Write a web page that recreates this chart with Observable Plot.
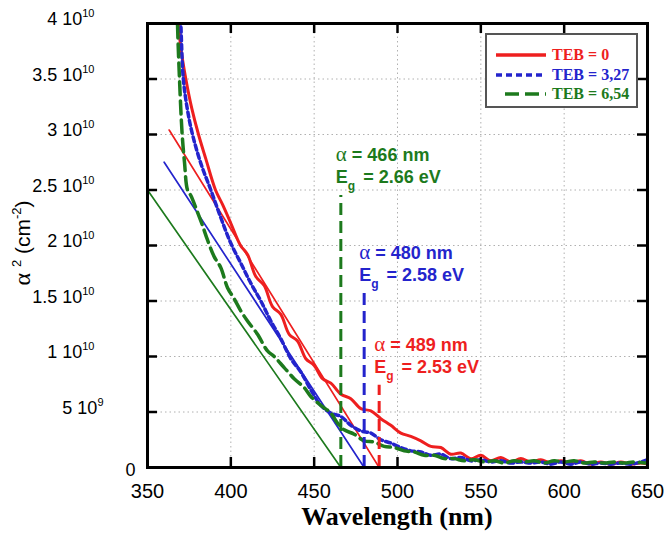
<!DOCTYPE html>
<html><head><meta charset="utf-8">
<script src="https://cdn.jsdelivr.net/npm/d3@7"></script>
<script src="https://cdn.jsdelivr.net/npm/@observablehq/plot@0.6"></script>
<style>
body{margin:0;background:#fff;}
#wrap{position:relative;width:667px;height:534px;overflow:hidden;}
#legend{position:absolute;left:485px;top:33px;width:153px;height:75px;border:2px solid #555;background:#fff;box-sizing:border-box;}
.lrow{position:absolute;left:8px;height:20px;display:flex;align-items:center;font-family:"Liberation Serif","Times New Roman",serif;font-weight:bold;font-size:16px;white-space:nowrap;}
.lrow svg{margin-right:5px;}
</style></head><body><div id="wrap"></div>
<script>
// ---- data ----
const seriesNames = ["TEB = 0", "TEB = 3,27", "TEB = 6,54"];
const seriesColors = ["#ee1f1f", "#2424cc", "#1d7a1d"];

const redL = [366.5,368.6,370,373,376.5,380.6,385,390.8,395,400,405.8,410,415,420,425,430,435,440,445,450,455,460,466,472,478,484,490,496,502,508,514,520,526,532,538,544,550,556,562,568,574,580,586,592,598,604,610,616,622,628,634,640,646,650];
const redA = [4.5,4.0,3.78,3.5,3.24,3.0,2.78,2.5,2.37,2.2,2.0,1.92,1.72,1.64,1.45,1.38,1.2,1.14,0.98,0.92,0.8,0.76,0.66,0.62,0.53,0.51,0.44,0.38,0.31,0.28,0.24,0.19,0.18,0.12,0.13,0.08,0.11,0.06,0.09,0.05,0.08,0.05,0.07,0.04,0.06,0.04,0.06,0.03,0.05,0.03,0.05,0.03,0.04,0.03];

const blueL = [368.8,370,371.5,374,377,382,388,394,400,406,412,418,424,430,436,442,448,454,460,466,472,478,484,490,496,502,508,514,520,526,532,538,544,550,556,562,568,574,580,586,592,598,604,610,616,622,628,634,640,646,650];
const blueA = [4.5,4.0,3.5,3.22,3.0,2.74,2.5,2.25,2.02,1.84,1.66,1.5,1.32,1.16,0.98,0.86,0.7,0.56,0.49,0.46,0.38,0.33,0.31,0.25,0.22,0.18,0.15,0.14,0.11,0.12,0.08,0.09,0.06,0.07,0.05,0.06,0.04,0.05,0.04,0.05,0.03,0.05,0.03,0.05,0.03,0.04,0.03,0.04,0.03,0.05,0.07];

const greenL = [367.5,368,369.2,370.8,372.2,374,376,380,383,386,390,394,398,402,406,410,416,422,426,432,438,444,448,454,460,464,468,474,480,486,492,498,504,510,516,522,528,534,540,546,552,558,564,570,576,582,588,594,600,606,612,618,624,630,636,642,648,650];
const greenA = [4.5,4.0,3.5,3.0,2.75,2.5,2.45,2.3,2.18,2.05,1.9,1.8,1.62,1.52,1.41,1.32,1.2,1.05,1.0,0.9,0.8,0.72,0.64,0.56,0.49,0.4,0.34,0.3,0.24,0.23,0.19,0.18,0.15,0.14,0.11,0.11,0.08,0.08,0.06,0.07,0.05,0.06,0.04,0.06,0.05,0.06,0.04,0.06,0.05,0.06,0.04,0.05,0.04,0.05,0.04,0.05,0.04,0.04];

// linear fits (extrapolation to the band gap), endpoints
const fitL = [[363, 489], [360, 480], [350, 466]];
const fitA = [[3.04, 0], [2.75, 0], [2.5, 0]];

// band-gap annotations
const gapLambda = [489, 480, 466];
const gapEg = ["2.53", "2.58", "2.66"];
const gapTop = [0.74, 1.57, 2.45];

// axes
const xTicks = [350, 400, 450, 500, 550, 600, 650];
const yTicks = [0, 0.5, 1, 1.5, 2, 2.5, 3, 3.5, 4]; // units of 10^10 cm^-2
const yTickLabels = ["0", "5 10^{9}", "1 10^{10}", "1.5 10^{10}", "2 10^{10}", "2.5 10^{10}", "3 10^{10}", "3.5 10^{10}", "4 10^{10}"];
const yTickShift = [0, -32, -41, -41, -41, -41, -41, -41, -41];

const curveL = [redL, blueL, greenL];
const curveA = [redA, blueA, greenA];
const curveDash = [null, "5,3.5", "13,6"];
const curveWidth = [3, 3.5, 3.5];

// ---- build ----
const curveMarks = [0, 1, 2].map(i => Plot.line(curveL[i].map((l, j) => ({l, a: curveA[i][j]})), {
  x: "l", y: "a", stroke: seriesColors[i], strokeWidth: curveWidth[i],
  strokeDasharray: curveDash[i], clip: true, curve: "catmull-rom"
}));
const fitMarks = [0, 1, 2].map(i => Plot.line(fitL[i].map((l, j) => ({l, a: fitA[i][j]})), {
  x: "l", y: "a", stroke: seriesColors[i], strokeWidth: 1.7, clip: true
}));
const gapMarks = [0, 1, 2].map(i => Plot.ruleX([gapLambda[i]], {
  y1: 0, y2: gapTop[i], stroke: seriesColors[i], strokeWidth: 3, strokeDasharray: "12,6"
}));
const annMarks = [0, 1, 2].flatMap(i => [
  Plot.text([gapLambda[i]], {x: d => d, y: gapTop[i], text: d => `α = ${d} nm`, dx: -5, dy: -40,
    textAnchor: "start", fill: seriesColors[i], fontSize: 18, fontWeight: "bold"}),
  Plot.text([gapLambda[i]], {x: d => d, y: gapTop[i], text: () => `E_{g} = ${gapEg[i]} eV`, dx: -5, dy: -18,
    textAnchor: "start", fill: seriesColors[i], fontSize: 18, fontWeight: "bold"})
]);

const grid = {stroke: "#b0b0b0", strokeOpacity: 1, strokeWidth: 1, strokeDasharray: "1.5,3"};
const svg = Plot.plot({
  width: 667, height: 534,
  marginLeft: 147, marginRight: 20, marginTop: 23, marginBottom: 67,
  x: {domain: [350, 650]},
  y: {domain: [0, 4]},
  style: {fontFamily: "'Liberation Sans', Arial, sans-serif", background: "white", color: "black"},
  marks: [
    Plot.gridX(xTicks, grid),
    Plot.gridY(yTicks, grid),
    ...fitMarks,
    ...curveMarks,
    ...gapMarks,
    Plot.ruleX(xTicks, {y1: 0, y2: 0.09, stroke: "black", strokeWidth: 2.5}),
    Plot.ruleX(xTicks, {y1: 4, y2: 3.91, stroke: "black", strokeWidth: 2.5}),
    Plot.ruleY(yTicks, {x1: 350, x2: 356, stroke: "black", strokeWidth: 2.5}),
    Plot.ruleY(yTicks, {x1: 650, x2: 644, stroke: "black", strokeWidth: 2.5}),
    Plot.frame({stroke: "black", strokeWidth: 3}),
    Plot.axisX(xTicks, {tickSize: 0, tickPadding: 16, fontSize: 20, label: null}),
    Plot.axisY(yTicks, {tickSize: 0, tickPadding: 12, fontSize: 18, label: null,
      tickFormat: d => yTickLabels[yTicks.indexOf(d)]}),
    ...annMarks
  ]
});

const NS = "http://www.w3.org/2000/svg";
function richify(el, str, o) {
  el.textContent = "";
  const parts = str.split(/(\^\{[^}]*\}|_\{[^}]*\}|α)/).filter(s => s !== "");
  let shift = 0;
  for (const p of parts) {
    const t = document.createElementNS(NS, "tspan");
    let target = 0, txt = p;
    if (p.startsWith("^{")) { target = -o.sup; txt = p.slice(2, -1); t.setAttribute("font-size", o.small); }
    else if (p.startsWith("_{")) { target = o.sub; txt = p.slice(2, -1); t.setAttribute("font-size", o.small); }
    else if (p === "α") { t.setAttribute("font-family", "'Liberation Serif', 'Times New Roman', serif"); t.setAttribute("font-weight", "normal"); t.setAttribute("font-size", o.alpha); }
    if (target - shift !== 0) t.setAttribute("dy", target - shift);
    shift = target;
    t.textContent = txt;
    el.appendChild(t);
  }
}
// y tick labels with superscripts
svg.querySelectorAll('g[aria-label="y-axis tick label"] text').forEach(el => {
  const s = el.textContent;
  const idx = yTickLabels.indexOf(s);
  richify(el, s, {sup: 8, sub: 0, small: 11, alpha: 18});
  const tr = el.getAttribute("transform") || "";
  const dy = idx === 0 ? 3 : -4;
  el.setAttribute("transform", tr + ` translate(${yTickShift[idx]},${dy})`);
});
// annotations (α in Symbol-like serif, subscript g)
svg.querySelectorAll("text").forEach(el => {
  const s = el.textContent;
  if (/^α = \d+ nm$/.test(s) || /^E_\{g\}/.test(s)) {
    richify(el, s, {sup: 7, sub: 7, small: 12, alpha: 21});
    if (s.startsWith("E")) {
      const tsp = el.querySelectorAll("tspan");
      if (tsp[2]) tsp[2].setAttribute("dx", 3);
    }
  }
});
// axis titles
const yl = d3.select(svg).append("text")
  .attr("transform", "translate(30,243) rotate(-90)")
  .attr("text-anchor", "middle").attr("font-size", 21).attr("fill", "black");
richify(yl.node(), "α ^{2} (cm^{-2})", {sup: 9, sub: 0, small: 13, alpha: 24});
d3.select(svg).append("text")
  .attr("x", 397).attr("y", 525).attr("text-anchor", "middle")
  .attr("font-family", "'Liberation Serif', 'Times New Roman', serif")
  .attr("font-weight", "bold").attr("font-size", 26).attr("fill", "black")
  .text("Wavelength (nm)");

const wrap = document.getElementById("wrap");
wrap.appendChild(svg);

// legend
const legend = document.createElement("div");
legend.id = "legend";
seriesNames.forEach((name, i) => {
  const row = document.createElement("div");
  row.className = "lrow";
  row.style.top = (10 + i * 19.5) + "px";
  row.style.color = seriesColors[i];
  const sw = d3.create("svg").attr("width", 52).attr("height", 8);
  sw.append("line").attr("x1", i === 2 ? 10 : 1).attr("x2", 51).attr("y1", 4).attr("y2", 4)
    .attr("stroke", seriesColors[i]).attr("stroke-width", 3.5)
    .attr("stroke-dasharray", i === 0 ? null : (i === 1 ? "6,4" : "14,6"));
  row.appendChild(sw.node());
  const tx = document.createElement("span");
  tx.textContent = name;
  row.appendChild(tx);
  legend.appendChild(row);
});
wrap.appendChild(legend);
</script>
</body></html>
